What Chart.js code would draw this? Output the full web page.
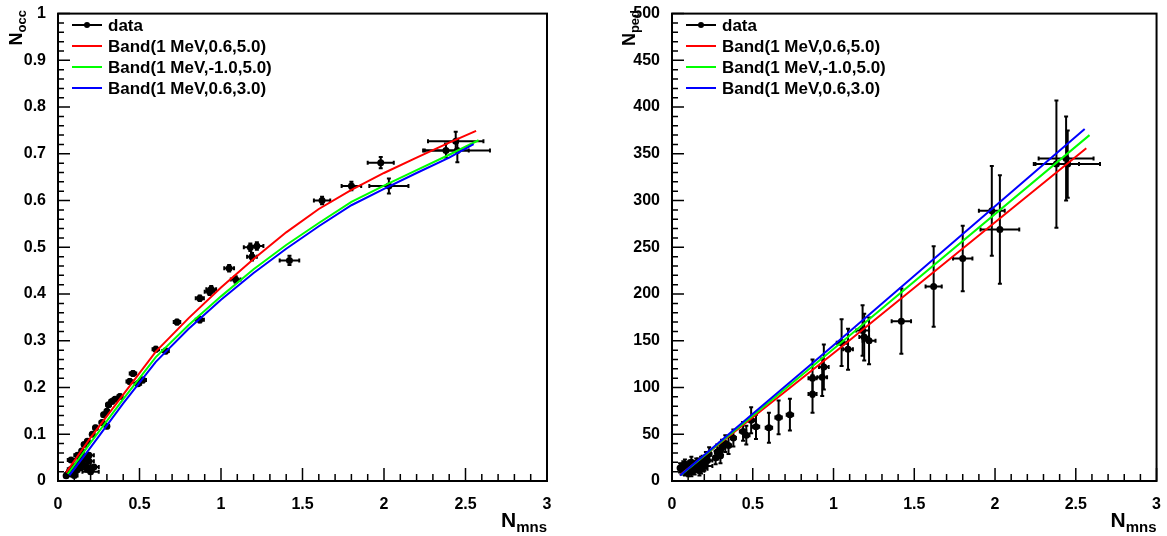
<!DOCTYPE html>
<html lang="en">
<head>
<meta charset="UTF-8">
<title>N_occ and N_ped vs N_mns</title>
<script src="https://cdn.jsdelivr.net/npm/chart.js"></script>
<style>
  body { margin: 0; background: white; }
  .pad { position: absolute; top: 0; height: 536px; }
  #leftPad { left: 0; width: 583px; }
  #rightPad { left: 583px; width: 584px; }
</style>
</head>
<body>
<div class="pad" id="leftPad"><canvas id="occChart" width="583" height="536"></canvas></div>
<div class="pad" id="rightPad"><canvas id="pedChart" width="584" height="536"></canvas></div>
<script>
  // measured points (shared N_mns for both panels)
  const nMns    = [2.44, 2.38, 2.45, 1.98, 2.03, 1.80, 1.62, 1.42, 1.18, 1.22, 1.19, 1.05, 1.09, 0.94, 0.93, 0.87, 0.87, 0.73, 0.66, 0.60,
                   0.52, 0.49, 0.46, 0.44, 0.38, 0.35, 0.31, 0.28, 0.30, 0.30, 0.23, 0.21, 0.18, 0.16, 0.145,
                   0.05, 0.06, 0.07, 0.08, 0.09, 0.10, 0.11, 0.12, 0.13, 0.14, 0.15, 0.16, 0.17, 0.18, 0.19, 0.20, 0.22, 0.12, 0.10, 0.08, 0.19, 0.27, 0.33];
  const nMnsErr = [0.17, 0.14, 0.20, 0.08, 0.12, 0.06, 0.05, 0.06, 0.04, 0.04, 0.03, 0.03, 0.03, 0.03, 0.03, 0.025, 0.025, 0.02, 0.02, 0.02,
                   0.02, 0.02, 0.02, 0.02, 0.015, 0.015, 0.015, 0.012, 0.012, 0.012, 0.012, 0.01, 0.01, 0.01, 0.01,
                   0.01, 0.015, 0.015, 0.02, 0.02, 0.02, 0.02, 0.02, 0.02, 0.02, 0.03, 0.03, 0.03, 0.04, 0.03, 0.05, 0.03, 0.02, 0.02, 0.02, 0.03, 0.015, 0.015];
  const nOcc    = [0.727, 0.707, 0.707, 0.681, 0.631, 0.631, 0.600, 0.472, 0.500, 0.503, 0.480, 0.455, 0.431, 0.410, 0.405, 0.391, 0.345, 0.340, 0.278, 0.282,
                   0.216, 0.208, 0.230, 0.213, 0.181, 0.175, 0.163, 0.142, 0.149, 0.117, 0.114, 0.100, 0.085, 0.078, 0.064,
                   0.011, 0.015, 0.020, 0.025, 0.018, 0.030, 0.022, 0.035, 0.028, 0.045, 0.038, 0.050, 0.032, 0.025, 0.042, 0.020, 0.030, 0.055, 0.012, 0.045, 0.055, 0.125, 0.170];
  const nOccErr = [0.020, 0.015, 0.025, 0.012, 0.016, 0.009, 0.008, 0.010, 0.008, 0.008, 0.008, 0.007, 0.007, 0.007, 0.007, 0.006, 0.006, 0.005, 0.005, 0.005,
                   0.005, 0.005, 0.005, 0.005, 0.004, 0.004, 0.004, 0.004, 0.004, 0.004, 0.004, 0.003, 0.003, 0.003, 0.003,
                   0.003, 0.003, 0.003, 0.003, 0.003, 0.003, 0.003, 0.004, 0.004, 0.004, 0.004, 0.004, 0.004, 0.004, 0.004, 0.004, 0.004, 0.004, 0.003, 0.004, 0.004, 0.004, 0.004];
  const nPed    = [345, 339, 339, 289, 269, 238, 208, 171, 161, 150, 154, 148, 141, 122, 111, 110, 93, 71, 68, 57,
                   58, 65, 49, 53, 46, 38, 36, 31, 33, 27, 29, 24, 20, 18, 16,
                   14, 12, 16, 11, 15, 13, 17, 10, 14, 12, 18, 15, 11, 13, 19, 16, 22, 20, 9, 18, 21, 25, 40];
  const nPedErr = [45, 68, 36, 48, 58, 35, 43, 35, 27, 25, 25, 25, 22, 24, 20, 20, 20, 17, 18, 16,
                   13, 14, 10, 10, 9, 9, 8, 8, 8, 8, 7, 7, 6, 6, 5,
                   5, 5, 5, 5, 5, 5, 5, 5, 5, 5, 6, 5, 5, 5, 6, 5, 6, 6, 4, 5, 6, 7, 9];

  const bandLabels = ['Band(1 MeV,0.6,5.0)', 'Band(1 MeV,-1.0,5.0)', 'Band(1 MeV,0.6,3.0)'];
  const bandColors = ['#ff0000', '#00ff00', '#0000ff'];

  // band curves, N_occ panel
  const occRedX   = [0.05, 0.2, 0.4, 0.6, 0.8, 1.0, 1.2, 1.4, 1.6, 1.8, 2.0, 2.2, 2.4, 2.565];
  const occRedY   = [0.018, 0.093, 0.185, 0.277, 0.348, 0.414, 0.475, 0.532, 0.582, 0.623, 0.659, 0.692, 0.724, 0.749];
  const occGreenX = [0.06, 0.2, 0.4, 0.6, 0.8, 1.0, 1.2, 1.4, 1.6, 1.8, 2.0, 2.2, 2.4, 2.58];
  const occGreenY = [0.015, 0.082, 0.175, 0.265, 0.333, 0.395, 0.453, 0.505, 0.552, 0.597, 0.632, 0.665, 0.698, 0.729];
  const occBlueX  = [0.07, 0.2, 0.4, 0.6, 0.8, 1.0, 1.2, 1.4, 1.6, 1.8, 2.0, 2.2, 2.4, 2.55];
  const occBlueY  = [0.012, 0.072, 0.166, 0.255, 0.325, 0.388, 0.445, 0.497, 0.545, 0.590, 0.625, 0.659, 0.692, 0.721];

  // band curves, N_ped panel
  const pedRedX   = [0.05, 1.033, 2.565];
  const pedRedY   = [6.5, 141.3, 356];
  const pedGreenX = [0.055, 1.033, 2.585];
  const pedGreenY = [6.5, 146, 370];
  const pedBlueX  = [0.05, 1.033, 2.555];
  const pedBlueY  = [6, 150, 376.6];

  const FONT = '"Liberation Sans", Arial, Helvetica, sans-serif';

  const zip = (xs, ys) => xs.map((x, i) => ({ x: x, y: ys[i] }));

  // ROOT-like frame, inner ticks, axis titles, legend and error bars
  const rootStyle = {
    id: 'rootStyle',
    beforeDatasetsDraw(chart) {
      const ctx = chart.ctx, a = chart.chartArea;
      const xs = chart.scales.x, ys = chart.scales.y;
      ctx.save();
      ctx.beginPath();
      ctx.rect(a.left, a.top, a.right - a.left, a.bottom - a.top);
      ctx.clip();
      ctx.strokeStyle = '#000';
      ctx.lineWidth = 2;
      chart.data.datasets.forEach(ds => {
        if (!ds.xErr) return;
        ds.data.forEach((p, j) => {
          const px = xs.getPixelForValue(p.x), py = ys.getPixelForValue(p.y);
          const x0 = xs.getPixelForValue(p.x - ds.xErr[j]), x1 = xs.getPixelForValue(p.x + ds.xErr[j]);
          const y0 = ys.getPixelForValue(p.y - ds.yErr[j]), y1 = ys.getPixelForValue(p.y + ds.yErr[j]);
          ctx.beginPath();
          ctx.moveTo(x0, py); ctx.lineTo(x1, py);
          ctx.moveTo(px, y0); ctx.lineTo(px, y1);
          // end caps
          ctx.moveTo(x0, py - 2); ctx.lineTo(x0, py + 2);
          ctx.moveTo(x1, py - 2); ctx.lineTo(x1, py + 2);
          ctx.moveTo(px - 2, y0); ctx.lineTo(px + 2, y0);
          ctx.moveTo(px - 2, y1); ctx.lineTo(px + 2, y1);
          ctx.stroke();
        });
      });
      ctx.restore();
    },
    afterDraw(chart, args, opts) {
      const ctx = chart.ctx, a = chart.chartArea;
      const xs = chart.scales.x, ys = chart.scales.y;
      ctx.save();
      ctx.strokeStyle = '#000';
      ctx.lineWidth = 2;
      ctx.strokeRect(a.left, a.top, a.right - a.left, a.bottom - a.top);

      // inner ticks
      ctx.lineWidth = 1.5;
      ctx.beginPath();
      const nx = Math.round((xs.max - xs.min) / opts.xMinor);
      for (let i = 0; i <= nx; i++) {
        const v = xs.min + i * opts.xMinor;
        const major = Math.abs(v / opts.xMajor - Math.round(v / opts.xMajor)) < 1e-6;
        const px = xs.getPixelForValue(v);
        ctx.moveTo(px, a.bottom); ctx.lineTo(px, a.bottom - (major ? 13 : 7));
      }
      const ny = Math.round((ys.max - ys.min) / opts.yMinor);
      for (let i = 0; i <= ny; i++) {
        const v = ys.min + i * opts.yMinor;
        const major = Math.abs(v / opts.yMajor - Math.round(v / opts.yMajor)) < 1e-6;
        const py = ys.getPixelForValue(v);
        ctx.moveTo(a.left, py); ctx.lineTo(a.left + (major ? 12 : 6), py);
      }
      ctx.stroke();

      // x title, right aligned at end of axis
      ctx.fillStyle = '#000';
      ctx.textBaseline = 'alphabetic';
      ctx.textAlign = 'left';
      ctx.font = 'bold 21px ' + FONT;
      const wN = ctx.measureText(opts.xTitle[0]).width;
      ctx.font = 'bold 15px ' + FONT;
      const wS = ctx.measureText(opts.xTitle[1]).width;
      const x0 = a.right - wN - wS;
      ctx.font = 'bold 21px ' + FONT;
      ctx.fillText(opts.xTitle[0], x0, 527);
      ctx.font = 'bold 15px ' + FONT;
      ctx.fillText(opts.xTitle[1], x0 + wN, 532);

      // y title, rotated, ending at top of frame
      ctx.save();
      ctx.translate(opts.yTitleX, 10);
      ctx.rotate(-Math.PI / 2);
      ctx.font = 'bold 18px ' + FONT;
      const yN = ctx.measureText(opts.yTitle[0]).width;
      ctx.font = 'bold 13px ' + FONT;
      const yS = ctx.measureText(opts.yTitle[1]).width;
      ctx.font = 'bold 18px ' + FONT;
      ctx.fillText(opts.yTitle[0], -yN - yS, 0);
      ctx.font = 'bold 13px ' + FONT;
      ctx.fillText(opts.yTitle[1], -yS, 4);
      ctx.restore();

      // legend
      const rows = [25, 46, 67, 88];
      ctx.font = 'bold 17px ' + FONT;
      ctx.textBaseline = 'middle';
      chart.data.datasets.forEach((ds, i) => {
        const y = rows[i];
        const lx = a.left + 14;
        ctx.strokeStyle = ds.borderColor;
        ctx.lineWidth = 2;
        ctx.beginPath();
        ctx.moveTo(lx, y); ctx.lineTo(lx + 30, y);
        ctx.stroke();
        if (ds.xErr) {
          ctx.fillStyle = '#000';
          ctx.beginPath();
          ctx.arc(lx + 15, y, 3, 0, Math.PI * 2);
          ctx.fill();
        }
        ctx.fillStyle = '#000';
        ctx.fillText(ds.label, a.left + 50, y + 1);
      });
      ctx.restore();
    }
  };

  function makeChart(id, pts, yVals, yErrs, bands, yMax, yStep, pad, opts) {
    const datasets = [{
      label: 'data',
      data: zip(nMns, yVals),
      xErr: nMnsErr,
      yErr: yErrs,
      showLine: false,
      borderColor: '#000',
      backgroundColor: '#000',
      pointRadius: 3.5,
      pointBorderWidth: 0,
      order: 4
    }];
    bands.forEach((b, i) => {
      datasets.push({
        label: bandLabels[i],
        data: zip(b[0], b[1]),
        showLine: true,
        borderColor: bandColors[i],
        borderWidth: 2,
        pointRadius: 0,
        tension: 0,
        order: 3 - i
      });
    });
    const tickFont = { family: FONT, size: 16, weight: 'bold' };
    return new Chart(document.getElementById(id), {
      type: 'scatter',
      data: { datasets: datasets },
      options: {
        responsive: false,
        animation: false,
        devicePixelRatio: 1,
        layout: { padding: pad },
        scales: {
          x: {
            type: 'linear', min: 0, max: 3,
            ticks: { stepSize: 0.5, color: '#000', font: tickFont, padding: 6, maxRotation: 0,
                     callback: v => String(Number(v.toFixed(2))) },
            grid: { display: false },
            border: { display: false },
            afterFit: s => { s.height = 55; }
          },
          y: {
            type: 'linear', min: 0, max: yMax,
            ticks: { stepSize: yStep, color: '#000', font: tickFont, padding: 4,
                     callback: v => String(Number(v.toFixed(2))) },
            grid: { display: false },
            border: { display: false },
            afterFit: s => { s.width = pts; }
          }
        },
        plugins: {
          legend: { display: false },
          tooltip: { enabled: false },
          rootStyle: opts
        }
      },
      plugins: [rootStyle]
    });
  }

  makeChart('occChart', 58, nOcc, nOccErr,
    [[occRedX, occRedY], [occGreenX, occGreenY], [occBlueX, occBlueY]],
    1, 0.1, { top: 10, right: 36, left: 0, bottom: 0 },
    { xMinor: 0.1, xMajor: 0.5, yMinor: 0.02, yMajor: 0.1, xTitle: ['N', 'mns'], yTitle: ['N', 'occ'], yTitleX: 22 });

  makeChart('pedChart', 89, nPed, nPedErr,
    [[pedRedX, pedRedY], [pedGreenX, pedGreenY], [pedBlueX, pedBlueY]],
    500, 50, { top: 9, right: 7, left: 0, bottom: 0 },
    { xMinor: 0.1, xMajor: 0.5, yMinor: 10, yMajor: 50, xTitle: ['N', 'mns'], yTitle: ['N', 'ped'], yTitleX: 52 });
</script>
</body>
</html>
